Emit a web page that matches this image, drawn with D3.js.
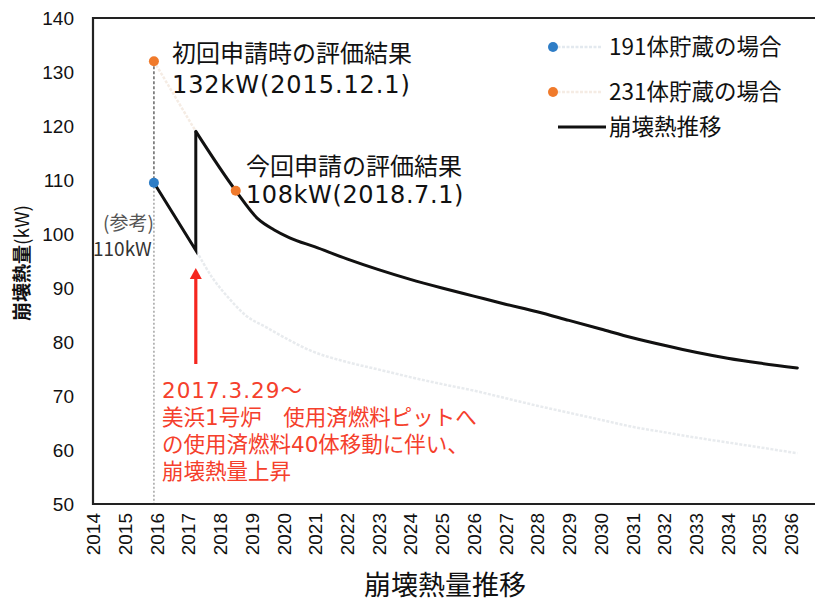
<!DOCTYPE html>
<html>
<head>
<meta charset="utf-8">
<script src="https://cdn.jsdelivr.net/npm/d3@7"></script>
<style>
  body { margin: 0; background: #fff; }
  svg { display: block; }
</style>
</head>
<body>
<div id="chart"></div>
<script>
// tick labels
const yearTicks = [2014, 2015, 2016, 2017, 2018, 2019, 2020, 2021, 2022, 2023, 2024, 2025,
  2026, 2027, 2028, 2029, 2030, 2031, 2032, 2033, 2034, 2035, 2036];
const valueTicks = [50, 60, 70, 80, 90, 100, 110, 120, 130, 140];

// 191体貯蔵の場合 (faint)
const years191 = [2015.92, 2017.24, 2017.75, 2018.3, 2018.8, 2019.5, 2020.2, 2020.9, 2022, 2023, 2024,
  2025, 2026, 2027, 2028, 2029, 2030, 2031, 2032, 2033, 2034, 2035, 2036.2];
const values191 = [109.5, 97, 92, 88, 85.0, 82.6, 80.3, 78.3, 76.3, 74.9, 73.5,
  72.2, 71.0, 69.6, 68.2, 66.9, 65.6, 64.3, 63.3, 62.3, 61.4, 60.5, 59.4];

// 231体貯蔵の場合 (faint, under the black line after the move)
const years231 = [2015.92, 2017.24];
const values231 = [132, 119];

// 崩壊熱推移 : before the move, then after
const yearsBefore = [2015.92, 2017.24, 2017.24];
const valuesBefore = [109.5, 97, 119];
const yearsAfter = [2017.24, 2018.5, 2019.2, 2019.7, 2020.2, 2021, 2022, 2023, 2024, 2025,
  2026, 2027, 2028, 2029, 2030, 2031, 2032, 2033, 2034, 2035, 2036.2];
const valuesAfter = [119, 108, 102.8, 100.8, 99.3, 97.6, 95.4, 93.4, 91.6, 90.0,
  88.5, 87.0, 85.6, 84.0, 82.4, 80.8, 79.4, 78.1, 77.0, 76.1, 75.2];

// marked points
const blueDots = [{ year: 2015.92, value: 109.5 }];
const orangeDots = [{ year: 2015.92, value: 132 }, { year: 2018.5, value: 108 }];

const eventYear = 2017.24;

const W = 815, H = 602;
const cjk = "'Noto Sans CJK JP', sans-serif";
const mixed = "'DejaVu Sans', 'Noto Sans CJK JP', sans-serif";
const arial = "'Liberation Sans', Arial, sans-serif";

const svg = d3.select('#chart').append('svg')
  .attr('width', W)
  .attr('height', H);

const x = d3.scaleLinear().domain([2014, 2036]).range([93, 791]);
const y = d3.scaleLinear().domain([50, 140]).range([504, 18]);

const zip = (xs, vs) => xs.map((d, i) => ({ year: d, value: vs[i] }));

const line = d3.line()
  .x(d => x(d.year))
  .y(d => y(d.value));
const smooth = d3.line()
  .x(d => x(d.year))
  .y(d => y(d.value))
  .curve(d3.curveMonotoneX);

// axes
const yAxis = svg.append('g')
  .attr('transform', `translate(${x(2014)},0)`)
  .call(d3.axisLeft(y).tickValues(valueTicks).tickSize(0).tickPadding(19));
yAxis.select('.domain').remove();
yAxis.selectAll('text')
  .style('font-family', arial)
  .style('font-size', '19px')
  .attr('fill', '#111');

const xAxis = svg.append('g')
  .attr('transform', `translate(0,${y(50)})`)
  .call(d3.axisBottom(x).tickValues(yearTicks).tickFormat(d3.format('d')).tickSize(0));
xAxis.select('.domain').remove();
xAxis.selectAll('text')
  .attr('transform', 'rotate(-90)')
  .attr('x', -9)
  .attr('y', 0)
  .attr('dy', '0.35em')
  .style('text-anchor', 'end')
  .style('font-family', arial)
  .style('font-size', '19px')
  .attr('fill', '#111');

// reference vertical line at the first application
svg.append('line')
  .attr('x1', x(2015.92)).attr('x2', x(2015.92))
  .attr('y1', y(109.5)).attr('y2', y(50))
  .attr('stroke', '#aaa')
  .attr('stroke-width', 1.6)
  .attr('stroke-dasharray', '2,2');
svg.append('line')
  .attr('x1', x(2015.92)).attr('x2', x(2015.92))
  .attr('y1', y(132)).attr('y2', y(109.5))
  .attr('stroke', '#666')
  .attr('stroke-width', 1.5)
  .attr('stroke-dasharray', '3,2');

// faint series
svg.append('path')
  .datum(zip(years191, values191))
  .attr('fill', 'none')
  .attr('stroke', '#e8ebee')
  .attr('stroke-width', 2.5)
  .attr('stroke-dasharray', '3,1.5')
  .attr('d', smooth);

svg.append('path')
  .datum(zip(years231, values231).concat(zip(yearsAfter, valuesAfter).slice(1)))
  .attr('fill', 'none')
  .attr('stroke', '#f5ece4')
  .attr('stroke-width', 2.5)
  .attr('stroke-dasharray', '3,1.5')
  .attr('d', line);

// frame
svg.append('path')
  .attr('d', `M${x(2037)},${y(140)}H${x(2014)}V${y(50)}H${x(2037)}`)
  .attr('fill', 'none')
  .attr('stroke', '#222')
  .attr('stroke-width', 2.2);

// black decay heat line
svg.append('path')
  .datum(zip(yearsBefore, valuesBefore))
  .attr('fill', 'none')
  .attr('stroke', '#111')
  .attr('stroke-width', 3)
  .attr('stroke-linejoin', 'miter')
  .attr('d', line);
svg.append('path')
  .datum(zip(yearsAfter, valuesAfter))
  .attr('fill', 'none')
  .attr('stroke', '#111')
  .attr('stroke-width', 3)
  .attr('stroke-linecap', 'round')
  .attr('d', smooth);

// dots
svg.selectAll('circle.blue').data(blueDots).join('circle')
  .attr('class', 'blue')
  .attr('cx', d => x(d.year)).attr('cy', d => y(d.value))
  .attr('r', 5)
  .attr('fill', '#2e7dc6');
svg.selectAll('circle.orange').data(orangeDots).join('circle')
  .attr('class', 'orange')
  .attr('cx', d => x(d.year)).attr('cy', d => y(d.value))
  .attr('r', 5)
  .attr('fill', '#f07a2b');

// red arrow
const arrowX = x(eventYear);
svg.append('line')
  .attr('x1', arrowX).attr('x2', arrowX)
  .attr('y1', 364).attr('y2', 276)
  .attr('stroke', '#f5261f')
  .attr('stroke-width', 3.2);
svg.append('path')
  .attr('d', `M${arrowX},268L${arrowX - 6},279L${arrowX + 6},279Z`)
  .attr('fill', '#f5261f');

// annotations
function textLines(lines, x0, y0, dy, size, color, family, spacing) {
  lines.forEach((t, i) => {
    svg.append('text')
      .attr('x', x0)
      .attr('y', y0 + i * dy)
      .style('font-family', family)
      .style('font-size', size + 'px')
      .style('letter-spacing', (spacing[i] || 0) + 'px')
      .attr('fill', color)
      .text(t);
  });
}

textLines(['初回申請時の評価結果', '132kW(2015.12.1)'], 172, 62, 31, 24, '#111', mixed, [0, 0.9]);
textLines(['今回申請の評価結果', '108kW(2018.7.1)'], 246, 175, 28, 24, '#111', mixed, [0, 0.6]);
textLines(['(参考)'], 103, 230, 0, 19, '#555', cjk, [0]);
textLines(['110kW'], 93, 256, 0, 19, '#333', cjk, [0]);
textLines(['2017.3.29～', '美浜1号炉　使用済燃料ピットへ', 'の使用済燃料40体移動に伴い、', '崩壊熱量上昇'],
  162, 398, 27, 21.5, '#f5402c', mixed, [1, 0, 0, 0]);

// legend
const legend = svg.append('g');
const legendItems = [
  { label: '191体貯蔵の場合', color: '#2e7dc6', faint: '#e3e9ef', y: 47, kind: 'dot' },
  { label: '231体貯蔵の場合', color: '#f07a2b', faint: '#f5ece4', y: 92, kind: 'dot' },
  { label: '崩壊熱推移', color: '#111', faint: null, y: 127, kind: 'line' }
];
legendItems.forEach(it => {
  if (it.kind === 'dot') {
    legend.append('line')
      .attr('x1', 553).attr('x2', 602)
      .attr('y1', it.y).attr('y2', it.y)
      .attr('stroke', it.faint)
      .attr('stroke-width', 2.5)
      .attr('stroke-dasharray', '3,1.5');
    legend.append('circle')
      .attr('cx', 553).attr('cy', it.y).attr('r', 5)
      .attr('fill', it.color);
  } else {
    legend.append('line')
      .attr('x1', 558).attr('x2', 606)
      .attr('y1', it.y).attr('y2', it.y)
      .attr('stroke', it.color)
      .attr('stroke-width', 3);
  }
  legend.append('text')
    .attr('x', 609)
    .attr('y', it.y + 8)
    .style('font-family', cjk)
    .style('font-size', '22.5px')
    .attr('fill', '#111')
    .text(it.label);
});

// axis titles
const yTitle = svg.append('text')
  .attr('transform', `translate(29,263) rotate(-90)`)
  .attr('text-anchor', 'middle')
  .style('font-family', cjk)
  .style('font-size', '19px')
  .attr('fill', '#111');
yTitle.append('tspan').style('font-weight', 'bold').text('崩壊熱量');
yTitle.append('tspan').text('(kW)');

svg.append('text')
  .attr('x', 445)
  .attr('y', 595)
  .attr('text-anchor', 'middle')
  .style('font-family', cjk)
  .style('font-size', '27px')
  .attr('fill', '#111')
  .text('崩壊熱量推移');
</script>
</body>
</html>
